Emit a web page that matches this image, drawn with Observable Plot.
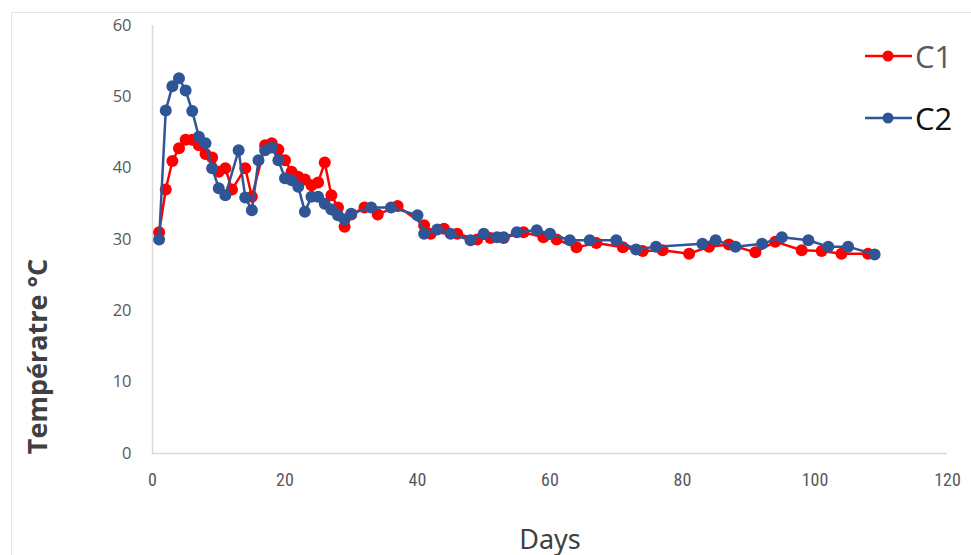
<!DOCTYPE html>
<html>
<head>
<meta charset="utf-8">
<script src="https://cdn.jsdelivr.net/npm/d3@7"></script>
<script src="https://cdn.jsdelivr.net/npm/@observablehq/plot@0.6"></script>
<style>
  body { margin: 0; background: #fff; }
  #wrap { position: relative; width: 971px; height: 555px; overflow: hidden; background: #fff; }
  #frame { position: absolute; left: 11px; top: 12px; width: 980px; height: 600px; border: 1px solid #e4e4e4; box-sizing: border-box; }
  #legend { position: absolute; left: 864px; top: 36px; font-family: "Open Sans", "Noto Sans", sans-serif; font-size: 31px; }
  .item { position: relative; height: 62px; }
  .item svg { position: absolute; left: 0; top: 8px; }
  .item span { position: absolute; left: 51px; top: 0px; line-height: 40px; }
  #chart { position: absolute; left: 0; top: 0; }
</style>
</head>
<body>
<div id="wrap">
  <div id="frame"></div>
  <div id="chart"></div>
  <div id="legend"></div>
</div>
<script>
const seriesNames = ["C1", "C2"];
const seriesColors = ["#ff0000", "#2f5597"];

const c1Days = [1,2,3,4,5,6,7,8,9,10,11,12,14,15,17,18,19,20,21,22,23,24,25,26,27,28,29,30,32,34,37,41,42,44,46,49,51,53,56,59,61,64,67,71,74,77,81,84,87,91,94,98,101,104,108];
const c1Temps = [31,37,41,42.8,44,44,43.2,42,41.5,39.5,40,37,40,36,43.2,43.5,42.6,41.1,39.5,38.8,38.4,37.6,38,40.8,36.2,34.5,31.8,33.5,34.5,33.5,34.7,32,30.8,31.5,30.8,30,30.2,30.2,31,30.3,30,28.9,29.5,28.9,28.4,28.5,28,29,29.3,28.2,29.7,28.5,28.4,28,28];

const c2Days = [1,2,3,4,5,6,7,8,9,10,11,13,14,15,16,17,18,19,20,21,22,23,24,25,26,27,28,29,30,33,36,40,41,43,45,48,50,52,53,55,58,60,63,66,70,73,76,83,85,88,92,95,99,102,105,109];
const c2Temps = [30,48.1,51.5,52.6,50.9,48,44.4,43.5,40,37.2,36.2,42.5,35.9,34.1,41.1,42.5,42.9,41.1,38.6,38.3,37.4,33.9,36,36,35,34.2,33.4,32.8,33.6,34.5,34.5,33.4,30.8,31.4,30.8,29.9,30.8,30.3,30.3,31,31.3,30.8,29.9,29.9,29.9,28.6,29,29.4,29.9,29,29.4,30.3,29.9,29,29,27.9];

const xTicks = [0, 20, 40, 60, 80, 100, 120];
const yTicks = [0, 10, 20, 30, 40, 50, 60];
const xLabel = "Days";
const yLabel = "Températre °C";

const c1 = c1Days.map((d, i) => ({day: d, temp: c1Temps[i], s: "C1"}));
const c2 = c2Days.map((d, i) => ({day: d, temp: c2Temps[i], s: "C2"}));

const chart = Plot.plot({
  width: 971,
  height: 555,
  marginLeft: 152,
  marginRight: 24,
  marginTop: 25,
  marginBottom: 102,
  style: { background: "transparent", fontFamily: "'Open Sans', sans-serif" },
  x: { domain: [0, 120], ticks: xTicks, label: null },
  y: { domain: [0, 60], ticks: yTicks, label: null },
  marks: [
    Plot.ruleY([0], { stroke: "#d9d9d9", strokeWidth: 1.5 }),
    Plot.ruleX([0], { stroke: "#d9d9d9", strokeWidth: 1.5 }),
    Plot.axisX({ ticks: xTicks, tickSize: 0, tickPadding: 20, fontSize: 18, fill: "#595959", label: null,
                 fontFamily: "'Liberation Sans Narrow', 'Roboto Condensed', 'Noto Sans', sans-serif", fontStretch: "condensed" }),
    Plot.axisY({ ticks: yTicks, tickSize: 0, tickPadding: 21, fontSize: 16.5, fill: "#595959", label: null }),
    Plot.line(c1, { x: "day", y: "temp", stroke: seriesColors[0], strokeWidth: 2.5 }),
    Plot.dot(c1, { x: "day", y: "temp", fill: seriesColors[0], r: 6 }),
    Plot.line(c2, { x: "day", y: "temp", stroke: seriesColors[1], strokeWidth: 2.5 }),
    Plot.dot(c2, { x: "day", y: "temp", fill: seriesColors[1], r: 6 }),
    Plot.text([xLabel], { frameAnchor: "bottom", dy: 95, fontSize: 27, fill: "#404040",
                 fontFamily: "'Liberation Sans Narrow', 'Noto Sans', sans-serif" }),
    Plot.text([yLabel], { frameAnchor: "left", textAnchor: "middle", dx: -114, dy: 117, rotate: -90, fontSize: 27, fontWeight: "bold", fill: "#404040",
                 fontFamily: "'Open Sans', sans-serif" })
  ]
});
document.getElementById("chart").appendChild(chart);

const legend = document.getElementById("legend");
seriesNames.forEach((name, i) => {
  const item = document.createElement("div");
  item.className = "item";
  item.innerHTML = `<svg width="50" height="24"><line x1="1" y1="12" x2="48" y2="12" stroke="${seriesColors[i]}" stroke-width="2.5"/><circle cx="24" cy="12" r="5.5" fill="${seriesColors[i]}"/></svg><span style="color:${i === 0 ? '#595959' : '#111'}">${name}</span>`;
  legend.appendChild(item);
});
</script>
</body>
</html>
